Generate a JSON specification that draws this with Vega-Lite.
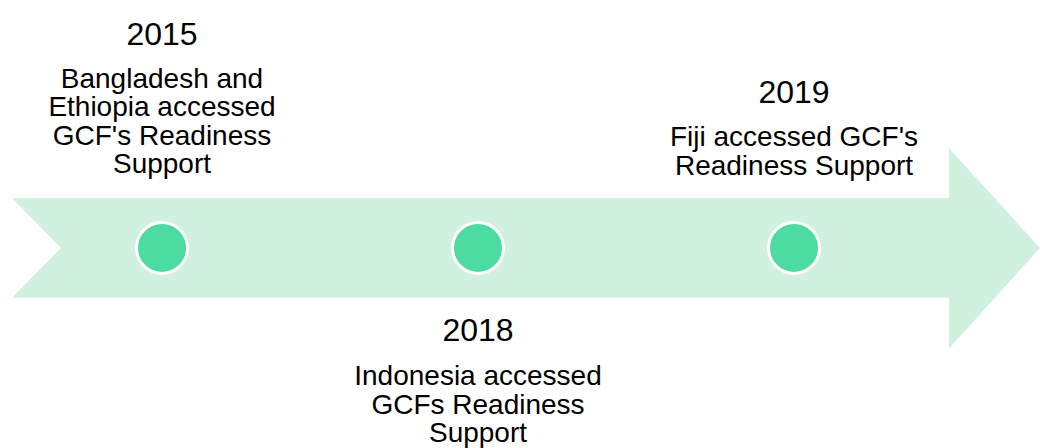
{
  "$schema": "https://vega.github.io/schema/vega-lite/v6.json",
  "width": 1040,
  "height": 448,
  "autosize": {"type": "fit", "contains": "padding"},
  "padding": 0,
  "background": "white",
  "config": {"view": {"stroke": null}},
  "datasets": {
    "arrow": [
      {"part": "band", "x": 12, "top": 199, "bottom": 299},
      {"part": "band", "x": 949, "top": 199, "bottom": 299},
      {"part": "head", "x": 949, "top": 149, "bottom": 350},
      {"part": "head", "x": 1040, "top": 249, "bottom": 249}
    ],
    "notch": [
      {"x": 11, "top": 198, "bottom": 300},
      {"x": 61, "top": 249, "bottom": 249}
    ],
    "events": [
      {"year": "2015", "x": 162, "yearY": 35, "textY": 78, "label": "Bangladesh and\nEthiopia accessed\nGCF's Readiness\nSupport"},
      {"year": "2018", "x": 478, "yearY": 332, "textY": 377, "label": "Indonesia accessed\nGCFs Readiness\nSupport"},
      {"year": "2019", "x": 794, "yearY": 93, "textY": 137, "label": "Fiji accessed GCF's\nReadiness Support"}
    ]
  },
  "encoding": {
    "x": {"type": "quantitative", "scale": {"domain": [0, 1040], "nice": false, "zero": false}, "axis": null}
  },
  "layer": [
    {
      "data": {"name": "arrow"},
      "mark": {"type": "area", "color": "#d0f0e0", "interpolate": "linear"},
      "encoding": {
        "x": {"field": "x", "type": "quantitative"},
        "y": {"field": "top", "type": "quantitative", "scale": {"domain": [448, 0], "nice": false, "zero": false}, "axis": null},
        "y2": {"field": "bottom"},
        "detail": {"field": "part"}
      }
    },
    {
      "data": {"name": "notch"},
      "mark": {"type": "area", "color": "white", "interpolate": "linear"},
      "encoding": {
        "x": {"field": "x", "type": "quantitative"},
        "y": {"field": "top", "type": "quantitative"},
        "y2": {"field": "bottom"}
      }
    },
    {
      "data": {"name": "events"},
      "mark": {"type": "point", "shape": "circle", "filled": true, "color": "#4cdba0", "stroke": "white", "strokeWidth": 3, "opacity": 1, "size": 2601},
      "encoding": {
        "x": {"field": "x", "type": "quantitative"},
        "y": {"datum": 249, "type": "quantitative"}
      }
    },
    {
      "data": {"name": "events"},
      "mark": {"type": "text", "font": "Liberation Sans", "fontSize": 32, "color": "black", "align": "center", "baseline": "middle"},
      "encoding": {
        "x": {"field": "x", "type": "quantitative"},
        "y": {"field": "yearY", "type": "quantitative"},
        "text": {"field": "year"}
      }
    },
    {
      "data": {"name": "events"},
      "mark": {"type": "text", "font": "Liberation Sans", "fontSize": 28, "lineHeight": 28.5, "lineBreak": "\n", "color": "black", "align": "center", "baseline": "line-top", "dy": -12},
      "encoding": {
        "x": {"field": "x", "type": "quantitative"},
        "y": {"field": "textY", "type": "quantitative"},
        "text": {"field": "label"}
      }
    }
  ]
}
